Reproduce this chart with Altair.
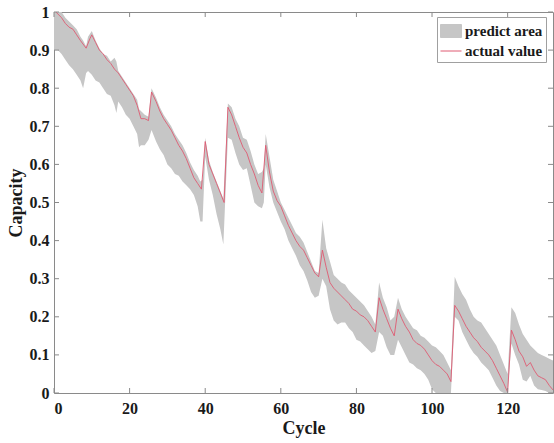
import altair as alt
import pandas as pd

# ---- data ----
act_x = [0.5, 2, 3, 4, 5, 6, 7, 8.5, 9.5, 10, 11, 12, 13, 14, 15, 16, 17, 18, 19, 20,
         21, 22, 23, 24, 25, 25.8, 27, 28, 29, 30, 31, 32, 33, 34, 35, 36, 37, 38, 39, 40,
         41, 42, 43, 44, 45, 46, 47, 48, 49, 50, 51, 52, 53, 54, 55, 56, 57, 58, 59, 60,
         61, 62, 63, 64, 65, 66, 67, 68, 69, 70, 71, 72, 73, 74, 75, 76, 77, 78, 79, 80,
         81, 82, 83, 84, 85, 86, 87, 88, 89, 90, 91, 92, 93, 94, 95, 96, 97, 98, 99, 100,
         101, 102, 103, 104, 105, 106, 107, 108, 109, 110, 111, 112, 113, 114, 115, 116, 117, 118, 119, 120,
         121, 122, 123, 124, 125, 126, 127, 128, 129, 130, 131, 132]
act_y = [1.0, 0.985, 0.97, 0.96, 0.955, 0.94, 0.925, 0.905, 0.93, 0.94, 0.92, 0.90, 0.89, 0.875, 0.865, 0.85, 0.84, 0.825, 0.81, 0.795,
         0.78, 0.755, 0.72, 0.72, 0.715, 0.79, 0.765, 0.74, 0.72, 0.705, 0.69, 0.67, 0.65, 0.635, 0.615, 0.59, 0.565, 0.55, 0.535, 0.66,
         0.60, 0.575, 0.55, 0.525, 0.50, 0.75, 0.73, 0.70, 0.67, 0.645, 0.63, 0.60, 0.575, 0.545, 0.525, 0.65, 0.58, 0.53, 0.505, 0.49,
         0.465, 0.44, 0.42, 0.40, 0.385, 0.375, 0.355, 0.335, 0.315, 0.305, 0.375, 0.33, 0.29, 0.275, 0.265, 0.255, 0.245, 0.235, 0.22, 0.215,
         0.205, 0.20, 0.19, 0.175, 0.16, 0.25, 0.22, 0.195, 0.17, 0.15, 0.22, 0.195, 0.175, 0.16, 0.14, 0.13, 0.125, 0.115, 0.10, 0.085,
         0.075, 0.07, 0.06, 0.05, 0.03, 0.23, 0.215, 0.195, 0.175, 0.16, 0.145, 0.135, 0.12, 0.11, 0.10, 0.085, 0.065, 0.045, 0.025, 0.002,
         0.165, 0.14, 0.11, 0.095, 0.07, 0.08, 0.06, 0.045, 0.04, 0.035, 0.02, 0.008]

band_x = [0, 1, 2, 3, 4, 5, 6, 7, 7.7, 8.5, 9, 10, 11, 12, 13, 14, 15, 16, 16.5, 17, 18, 19, 20,
          21, 22, 22.5, 23, 24, 25, 25.8, 27, 28, 29, 30, 31, 32, 33, 34, 35, 36, 37, 38, 38.7, 39.3, 40,
          41, 42, 43, 44, 44.8, 46, 47, 48, 49, 50, 51, 52, 53, 54, 55, 55.5, 56, 57, 58, 59, 60,
          61, 62, 63, 64, 65, 66, 67, 68, 69, 70, 71, 72, 73, 74, 75, 76, 77, 78, 79, 80,
          81, 82, 83, 84, 85, 86, 87, 88, 89, 90, 91, 92, 93, 94, 95, 96, 97, 98, 99, 100,
          101, 102, 103, 104, 105, 106, 107, 108, 109, 110, 111, 112, 113, 114, 115, 116, 117, 118, 119, 120,
          121, 122, 123, 124, 125, 126, 127, 128, 129, 130, 131, 132]
band_lo = [0.90, 0.90, 0.89, 0.875, 0.86, 0.85, 0.835, 0.82, 0.80, 0.84, 0.845, 0.835, 0.82, 0.815, 0.80, 0.785, 0.78, 0.755, 0.735, 0.765, 0.75, 0.73, 0.72,
           0.70, 0.68, 0.645, 0.65, 0.65, 0.665, 0.69, 0.66, 0.64, 0.625, 0.60, 0.59, 0.575, 0.57, 0.555, 0.545, 0.535, 0.52, 0.49, 0.45, 0.45, 0.62,
           0.56, 0.52, 0.47, 0.43, 0.39, 0.67, 0.665, 0.63, 0.60, 0.585, 0.59, 0.545, 0.50, 0.49, 0.485, 0.50, 0.60, 0.54, 0.50, 0.475, 0.45,
           0.43, 0.40, 0.38, 0.36, 0.335, 0.32, 0.295, 0.265, 0.25, 0.255, 0.30, 0.28, 0.22, 0.19, 0.18, 0.185, 0.185, 0.17, 0.16, 0.14,
           0.135, 0.125, 0.115, 0.105, 0.11, 0.16, 0.15, 0.12, 0.10, 0.10, 0.14, 0.12, 0.10, 0.08, 0.075, 0.065, 0.06, 0.05, 0.035, 0.01,
           0.0, 0.0, 0.0, 0.0, 0.0, 0.20, 0.19, 0.16, 0.14, 0.12, 0.105, 0.095, 0.08, 0.07, 0.06, 0.04, 0.02, 0.005, 0.0, 0.0,
           0.13, 0.10, 0.075, 0.035, 0.03, 0.045, 0.02, 0.01, 0.008, 0.005, 0.0, 0.0]
band_hi = [1.00, 1.00, 1.00, 0.985, 0.975, 0.965, 0.955, 0.935, 0.925, 0.91, 0.935, 0.95, 0.925, 0.905, 0.89, 0.885, 0.87, 0.88, 0.87, 0.845, 0.83, 0.815, 0.80,
           0.785, 0.77, 0.745, 0.74, 0.73, 0.725, 0.80, 0.775, 0.75, 0.73, 0.715, 0.70, 0.68, 0.665, 0.65, 0.63, 0.605, 0.585, 0.57, 0.555, 0.56, 0.67,
           0.61, 0.58, 0.555, 0.53, 0.51, 0.76, 0.75, 0.72, 0.70, 0.67, 0.665, 0.635, 0.60, 0.575, 0.58, 0.59, 0.68, 0.62, 0.56, 0.53, 0.50,
           0.48, 0.46, 0.44, 0.42, 0.41, 0.395, 0.37, 0.345, 0.32, 0.315, 0.455, 0.38, 0.345, 0.31, 0.30, 0.29, 0.285, 0.27, 0.26, 0.25,
           0.24, 0.23, 0.215, 0.20, 0.18, 0.29, 0.25, 0.225, 0.19, 0.20, 0.25, 0.22, 0.20, 0.185, 0.17, 0.165, 0.15, 0.145, 0.135, 0.125,
           0.12, 0.11, 0.10, 0.08, 0.06, 0.305, 0.28, 0.26, 0.245, 0.22, 0.20, 0.19, 0.185, 0.17, 0.155, 0.14, 0.125, 0.10, 0.075, 0.05,
           0.225, 0.21, 0.18, 0.155, 0.14, 0.125, 0.115, 0.105, 0.10, 0.095, 0.09, 0.085]

x_ticks = [0, 20, 40, 60, 80, 100, 120]
y_ticks = [0, 0.1, 0.2, 0.3, 0.4, 0.5, 0.6, 0.7, 0.8, 0.9, 1.0]
series_names = ["predict area", "actual value"]

# ---- styling ----
W, H = 499, 381
FONT = "Liberation Serif"
GREY = "#c6c6c6"
RED = "#df5a72"
AXC = "#8a8a8a"
TXT = "#1a1a1a"

band_df = pd.DataFrame({"x": band_x, "lo": band_lo, "hi": band_hi, "s": "predict area"})
line_df = pd.DataFrame({"x": act_x, "y": act_y, "s": "actual value"})
xt_df = pd.DataFrame({"x": x_ticks})
yt_df = pd.DataFrame({"y": y_ticks})

xscale = alt.Scale(domain=[0, 132], nice=False, zero=False)
yscale = alt.Scale(domain=[0, 1], nice=False)

xaxis = alt.Axis(values=x_ticks, ticks=False, domain=False, grid=False, format="d",
                 labelFont=FONT, labelFontWeight="bold", labelFontSize=16, labelColor=TXT,
                 labelPadding=7, title="Cycle", titleFont=FONT, titleFontWeight="bold",
                 titleFontSize=18, titleColor=TXT, titlePadding=3)
yaxis = alt.Axis(values=y_ticks, ticks=False, domain=False, grid=False, format="~g",
                 labelFont=FONT, labelFontWeight="bold", labelFontSize=16, labelColor=TXT,
                 labelPadding=5, title="Capacity", titleFont=FONT, titleFontWeight="bold",
                 titleFontSize=18, titleColor=TXT, titlePadding=4)

color = alt.Color(
    "s:N",
    scale=alt.Scale(domain=series_names, range=[GREY, RED]),
    legend=alt.Legend(
        orient="none", legendX=383, legendY=5, title=None,
        labelFont=FONT, labelFontWeight="bold", labelFontSize=15, labelColor=TXT,
        padding=3, strokeColor="#a0a0a0", fillColor="white", symbolSize=441,
        labelOffset=3, rowPadding=0,
        symbolType={"expr": "datum.value === 'predict area' ? 'M-1,-0.62H1V0.62H-1Z' : 'M-1,0H1'"},
        symbolFillColor={"expr": "datum.value === 'predict area' ? '#c6c6c6' : 'transparent'"},
        symbolStrokeColor={"expr": "datum.value === 'predict area' ? 'transparent' : '#e88a9c'"},
        symbolStrokeWidth=1,
        symbolOpacity=1,
    ),
)

band = alt.Chart(band_df).mark_area(opacity=1, interpolate="linear").encode(
    x=alt.X("x:Q", scale=xscale, axis=xaxis),
    y=alt.Y("lo:Q", scale=yscale, axis=yaxis),
    y2="hi:Q",
    color=color,
)

line = alt.Chart(line_df).mark_line(strokeWidth=0.9).encode(
    x=alt.X("x:Q", scale=xscale, axis=xaxis),
    y=alt.Y("y:Q", scale=yscale, axis=yaxis),
    color=color,
)

tick_b = alt.Chart(xt_df).mark_rule(color=AXC, strokeWidth=1).encode(
    x=alt.X("x:Q", scale=xscale, axis=xaxis), y=alt.value(H), y2=alt.value(H - 5))
tick_t = alt.Chart(xt_df).mark_rule(color=AXC, strokeWidth=1).encode(
    x=alt.X("x:Q", scale=xscale, axis=xaxis), y=alt.value(0), y2=alt.value(5))
tick_l = alt.Chart(yt_df).mark_rule(color=AXC, strokeWidth=1).encode(
    y=alt.Y("y:Q", scale=yscale, axis=yaxis), x=alt.value(0), x2=alt.value(5))
tick_r = alt.Chart(yt_df).mark_rule(color=AXC, strokeWidth=1).encode(
    y=alt.Y("y:Q", scale=yscale, axis=yaxis), x=alt.value(W), x2=alt.value(W - 5))

chart = alt.layer(band, line, tick_b, tick_t, tick_l, tick_r).properties(
    width=W, height=H,
    autosize=alt.AutoSizeParams(type="none"),
    padding={"left": 54, "top": 12, "right": 1, "bottom": 50},
    background="white",
).configure_view(stroke=AXC, strokeWidth=1)

chart.save("out.html", embed_options={"renderer": "svg", "actions": False})
